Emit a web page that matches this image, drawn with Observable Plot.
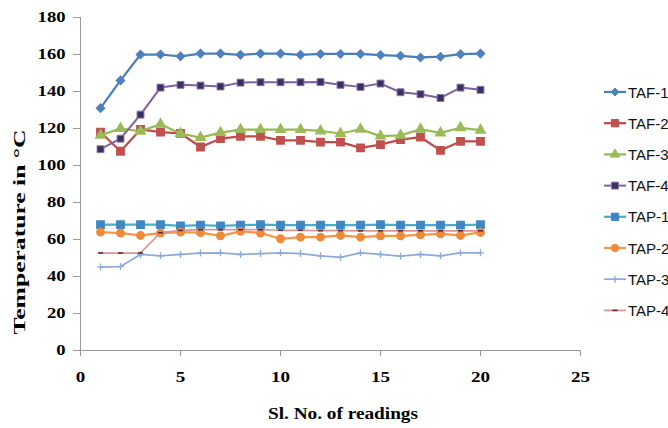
<!DOCTYPE html>
<html><head><meta charset="utf-8">
<script src="https://cdn.jsdelivr.net/npm/d3@7"></script>
<script src="https://cdn.jsdelivr.net/npm/@observablehq/plot@0.6"></script>
<style>
html,body{margin:0;padding:0;background:#fff;}
#chart{position:relative;width:668px;height:428px;}
</style></head><body><div id="chart"></div>
<script>
const readings = [1,2,3,4,5,6,7,8,9,10,11,12,13,14,15,16,17,18,19,20];
const seriesNames = ["TAF-1","TAF-2","TAF-3","TAF-4","TAP-1","TAP-2","TAP-3","TAP-4"];
const TAF1 = [131,146,160,160,159,160.5,160.5,159.8,160.5,160.5,159.8,160.3,160.3,160.3,159.7,159.3,158.4,158.8,160.2,160.5];
const TAF2 = [118,107.7,119.5,118,117.4,110,114.5,115.8,115.8,113.6,113.6,112.6,112.6,109.5,111.3,114,115.3,108.2,113,113];
const TAF3 = [116.3,120,118.5,122.3,117.3,115.1,117.8,119.4,119.4,119.4,119.4,118.7,117.3,119.6,115.9,116.3,119.6,117.6,120.4,119.1];
const TAF4 = [108.8,114.5,127.5,142.1,143.6,143.2,142.7,144.8,145,145,145,145.1,143.6,142.5,144.3,139.6,138.5,136.5,142.1,140.9];
const TAP1 = [68,68,68,68,67.4,67.8,67.4,67.8,68,67.8,67.8,67.8,67.8,67.8,68,67.8,67.8,67.8,67.8,68];
const TAP2 = [64,63.5,62.2,63.5,64,63.7,62,64.4,63.5,60.4,61.3,61.3,62.2,61.3,62,62,62.5,63.1,62.2,63.8];
const TAP3 = [45.1,45.4,51.9,51.2,51.9,52.7,52.8,51.9,52.4,52.8,52.4,51.2,50.3,52.8,51.9,51,51.9,51.2,52.8,52.8];
const TAP4 = [52.7,52.7,52.7,63.7,64.9,65.3,65.3,65.3,65.3,65,65,64.8,64.8,64.7,64.7,64.7,64.7,64.7,64.7,64.7];
const xTicks = [0,5,10,15,20,25];
const yTicks = [0,20,40,60,80,100,120,140,160,180];
const xTitle = "Sl. No. of readings";
const yTitle = "Temperature in °C";

const seriesValues = [TAF1,TAF2,TAF3,TAF4,TAP1,TAP2,TAP3,TAP4];

const dash = {draw(ctx, size){ const r = Math.sqrt(size/Math.PI); ctx.rect(-r,-0.8,2*r,1.6); }};

const styles = {
  "TAF-1": {line:"#4a7ebb", width:2.25, symbol:"diamond2", r:3.6, fill:"#4f81bd", stroke:"#4f81bd"},
  "TAF-2": {line:"#be4b48", width:2.25, symbol:"square", r:4.1, fill:"#c0504d", stroke:"#c0504d"},
  "TAF-3": {line:"#98b954", width:2.25, symbol:"triangle", r:3.5, fill:"#9bbb59", stroke:"#9bbb59"},
  "TAF-4": {line:"#7d60a0", width:2.0, symbol:"square", r:3.9, fill:"#3b2f5c", stroke:"#8a76ad"},
  "TAP-1": {line:"#4bacc6", width:2.25, symbol:"square", r:4.1, fill:"#3f86c4", stroke:"#3f86c4"},
  "TAP-2": {line:"#f79646", width:2.25, symbol:"circle", r:3.7, fill:"#ef8a3a", stroke:"#ef8a3a"},
  "TAP-3": {line:"#8eabd8", width:1.75, symbol:"plus", r:2.4, fill:"none", stroke:"#8eabd8"},
  "TAP-4": {line:"#d99694", width:1.75, symbol:dash, r:2.6, fill:"#5a2b2b", stroke:"none"}
};

const rows = [];
seriesNames.forEach((name, k) => {
  readings.forEach((r, i) => rows.push({series: name, reading: r, temp: seriesValues[k][i]}));
});

const marks = [
  Plot.ruleX([0], {stroke: "#9a9a9a", strokeWidth: 1}),
  Plot.ruleY([0], {stroke: "#9a9a9a", strokeWidth: 1}),
  Plot.axisY({ticks: yTicks, tickSize: 7, tickPadding: 8, stroke: "#9a9a9a", fill: "black", fontSize: 15, fontWeight: "bold", label: null}),
  Plot.axisX({ticks: xTicks, tickSize: 6, tickPadding: 15, stroke: "#9a9a9a", fill: "black", fontSize: 15, fontWeight: "bold", label: null})
];
seriesNames.forEach(name => {
  const s = styles[name];
  const d = rows.filter(r => r.series === name);
  marks.push(Plot.line(d, {x: "reading", y: "temp", stroke: s.line, strokeWidth: s.width, strokeLinejoin: "round"}));
  const dotOpts = {x: "reading", y: "temp", symbol: () => s.symbol, r: s.r, fill: s.fill, stroke: s.stroke};
  if (s.symbol === "plus") dotOpts.strokeWidth = 1.3;
  if (s.symbol === "square" && name === "TAF-4") dotOpts.strokeWidth = 1;
  marks.push(Plot.dot(d, dotOpts));
});

const svg = Plot.plot({
  width: 668, height: 428,
  marginLeft: 80, marginRight: 88, marginTop: 17, marginBottom: 78,
  style: {fontFamily: "'Liberation Serif', 'Times New Roman', serif", background: "#fff", color: "black"},
  x: {domain: [0, 25], label: null},
  y: {domain: [0, 180], label: null},
  symbol: {type: "identity"},
  marks
});

const root = d3.select(svg);
root.selectAll('g[aria-label="y-axis tick label"] text').each(function(){
  this.setAttribute("textLength", this.textContent.length * 9.3);
  this.setAttribute("lengthAdjust", "spacingAndGlyphs");
});
root.selectAll('g[aria-label="x-axis tick label"] text').each(function(){
  this.setAttribute("textLength", this.textContent.length * 9.5);
  this.setAttribute("lengthAdjust", "spacingAndGlyphs");
});

// titles
root.append("text")
  .attr("transform", "translate(19,232) rotate(-90)")
  .attr("text-anchor", "middle").attr("dominant-baseline", "central")
  .attr("font-size", 16).attr("font-weight", "bold")
  .attr("textLength", 205).attr("lengthAdjust", "spacingAndGlyphs")
  .text(yTitle);
root.append("text")
  .attr("x", 343).attr("y", 413)
  .attr("text-anchor", "middle").attr("dominant-baseline", "central")
  .attr("font-size", 16).attr("font-weight", "bold")
  .attr("textLength", 150).attr("lengthAdjust", "spacingAndGlyphs")
  .text(xTitle);

// legend
const lg = root.append("g").attr("font-family", "'Liberation Sans', Arial, sans-serif").attr("text-anchor", "start");
seriesNames.forEach((name, k) => {
  const s = styles[name];
  const y = 92 + k * 31.2;
  const g = lg.append("g").attr("transform", `translate(0,${y})`);
  g.append("line").attr("x1", 604).attr("x2", 626).attr("y1", 0).attr("y2", 0)
    .attr("stroke", s.line).attr("stroke-width", s.width);
  const symType = typeof s.symbol === "string"
    ? {diamond2: d3.symbolDiamond2, square: d3.symbolSquare, triangle: d3.symbolTriangle, circle: d3.symbolCircle, plus: d3.symbolPlus}[s.symbol]
    : s.symbol;
  g.append("path").attr("transform", "translate(615,0)")
    .attr("d", d3.symbol(symType, Math.PI * s.r * s.r)())
    .attr("fill", s.fill).attr("stroke", s.stroke)
    .attr("stroke-width", s.symbol === "plus" ? 1.3 : 1);
  g.append("text").attr("x", 628).attr("y", 0).attr("dominant-baseline", "central")
    .attr("text-anchor", "start")
    .attr("font-size", 15).attr("fill", "#111").text(name);
});

document.getElementById("chart").appendChild(svg);
</script></body></html>
